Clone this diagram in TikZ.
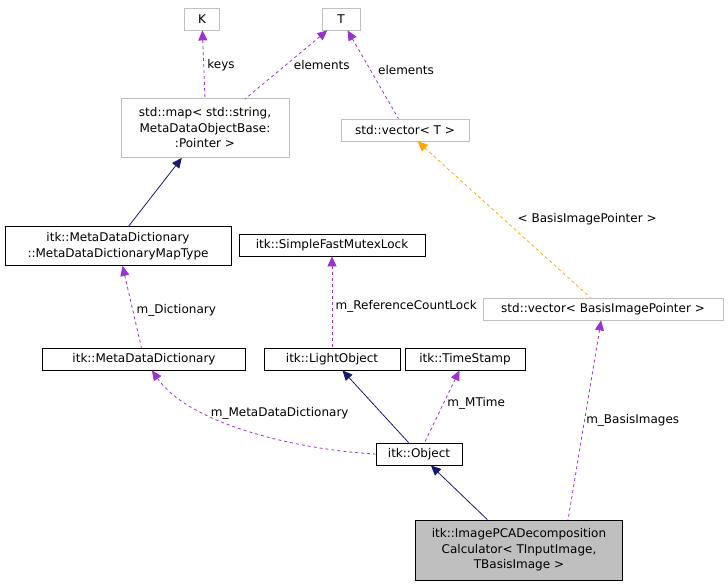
\documentclass[tikz,border=0pt]{standalone}
\usepackage{fontspec}
\setmainfont{DejaVu Sans}
\definecolor{edgepurple}{HTML}{9A32CD}
\definecolor{edgenavy}{HTML}{191970}
\definecolor{edgeorange}{HTML}{FFA500}
\definecolor{boxgray}{HTML}{BFBFBF}
\usetikzlibrary{arrows.meta, positioning}

\begin{document}
\begin{tikzpicture}[x=1pt, y=-1pt,
        every node/.style={font=\fontsize{12}{15.5}\selectfont},
        cls/.style={
          rectangle, draw=black, fill=white,
          line width=0.8pt, align=center,
          inner sep=2pt, minimum height=22pt},
        ext/.style={cls, draw=boxgray},
        member/.style={draw=edgepurple, dashed, line width=0.8pt,
          {Triangle[length=10pt, width=9pt]}-},
        inherit/.style={draw=edgenavy, line width=0.8pt,
          {Triangle[length=10pt, width=9pt]}-},
        templ/.style={draw=edgeorange, dashed, line width=0.8pt,
          {Triangle[length=10pt, width=9pt]}-}
      ]
        \useasboundingbox (0,0) rectangle (728,587);
        % template / external classes
        \node[ext, minimum width=35pt] (k) at (202, 19) {K};
        \node[ext, minimum width=38pt] (t) at (341, 19) {T};
        \node[ext, minimum width=168pt, minimum height=59pt] (map) at (205, 128)
          {std::map\textless{} std::string,\\MetaDataObjectBase:\\:Pointer \textgreater{}};
        \node[ext, minimum width=128pt] (vect) at (405, 130)
          {std::vector\textless{} T \textgreater{}};
        \node[ext, minimum width=240pt] (vecb) at (603, 309)
          {std::vector\textless{} BasisImagePointer \textgreater{}};
        % itk classes
        \node[cls, minimum width=226pt, minimum height=39pt] (mdmap) at (118, 246)
          {itk::MetaDataDictionary\\::MetaDataDictionaryMapType};
        \node[cls, minimum width=186pt] (mutex) at (332, 245) {itk::SimpleFastMutexLock};
        \node[cls, minimum width=203pt] (mdd) at (144, 359) {itk::MetaDataDictionary};
        \node[cls, minimum width=136pt] (light) at (332, 359) {itk::LightObject};
        \node[cls, minimum width=120pt] (stamp) at (465, 359) {itk::TimeStamp};
        \node[cls, minimum width=86pt] (obj) at (419, 454) {itk::Object};
        \node[cls, fill=boxgray, minimum width=207pt, minimum height=60pt] (calc) at (519, 550)
          {itk::ImagePCADecomposition\\Calculator\textless{} TInputImage,\\TBasisImage \textgreater{}};
        \coordinate (calcm) at (568, 520);

        \draw[member] (k) -- (205, 99) node[pos=0.5, right]{keys};
        \draw[member] (t) -- (245, 99) node[pos=0.5, right, xshift=4pt]{elements};
        \draw[member] (t) -- (vect) node[pos=0.45, right, xshift=4pt]{elements};
        \draw[inherit] (map) -- (128, 227);
        \draw[member] (mdmap) -- (mdd) node[pos=0.55, right]{m\_Dictionary};
        \draw[member] (mutex) -- (light) node[pos=0.55, right]{m\_ReferenceCountLock};
        \draw[templ] (vect) -- (vecb) node[midway, right, xshift=10pt]{\textless{} BasisImagePointer \textgreater{}};
        \draw[member] (mdd) .. controls (190, 425) and (300, 450) .. (obj.west)
          node[pos=0.5, above, xshift=30pt, yshift=8pt]{m\_MetaDataDictionary};
        \draw[inherit] (light) -- (obj);
        \draw[member] (stamp) -- (obj) node[pos=0.45, right]{m\_MTime};
        \draw[inherit] (obj) -- (calc);
        \draw[member] (vecb) -- (calcm) node[pos=0.5, right, xshift=-2pt]{m\_BasisImages};
      \end{tikzpicture}
\end{document}
